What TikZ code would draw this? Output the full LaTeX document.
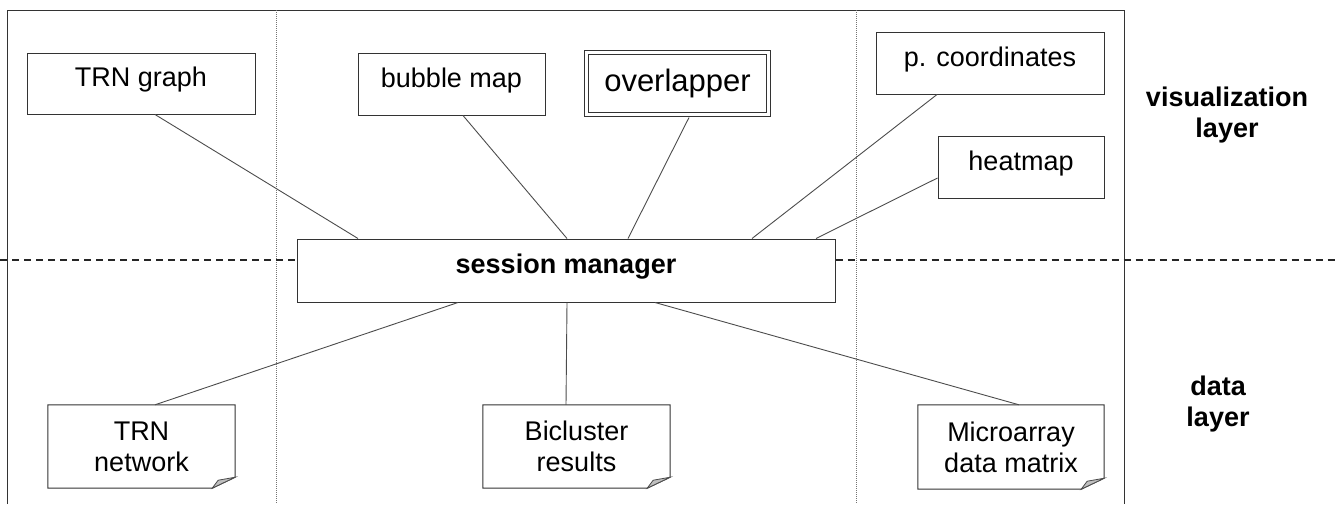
\documentclass[tikz,border=0pt]{standalone}
\usepackage{fontspec}
\setmainfont{Liberation Sans}
\usetikzlibrary{calc}
\tikzset{
  boxline/.style={draw=black!80, line width=1pt},
  viewbox/.style={boxline, rectangle, inner sep=0pt, fill=white,
    font=\fontsize{27}{31}\selectfont, text height=20pt, text depth=14pt},
  docbox/.style={rectangle, inner sep=0pt, align=center,
    font=\fontsize{27}{31}\selectfont},
  conn/.style={draw=black!70, line width=0.9pt},
  sep/.style={draw=black!55, line width=0.9pt, dash pattern=on 1pt off 1pt},
  layersep/.style={draw=black!85, line width=1.1pt, dash pattern=on 7pt off 5pt},
  fold/.style={draw=black!70, line width=0.8pt, fill=black!25},
  layerlabel/.style={align=center, font=\fontsize{27}{31}\selectfont\bfseries}
}
\newcommand\docoutline[1]{%
  \draw[boxline] (#1.north west) -- (#1.north east) -- ([yshift=11pt]#1.south east)
     -- ([xshift=-23pt]#1.south east) -- (#1.south west) -- cycle;
  \draw[fold] ([xshift=-23pt]#1.south east) -- ([xshift=-17pt,yshift=8pt]#1.south east)
     -- ([yshift=11pt]#1.south east) -- cycle;}
\begin{document}
\begin{tikzpicture}[x=1pt,y=-1pt]
\useasboundingbox (0,0) rectangle (1335,504);
% frame and separators
\draw[boxline] (7,504) -- (7,10) -- (1124,10) -- (1124,504);
\draw[sep] (276,10) -- (276,504);
\draw[sep] (856,10) -- (856,504);

% nodes
\node[viewbox, minimum width=228pt, minimum height=61pt] (trngraph) at (141,83.5) {TRN graph};
\node[viewbox, minimum width=187pt, minimum height=62pt] (bubble) at (451.5,84) {bubble map};
\node[rectangle, inner sep=0pt, draw=black!80, line width=1pt, double, double distance=3pt,
  minimum width=182pt, minimum height=62pt, font=\fontsize{31}{35}\selectfont]
  (overlapper) at (677.5,83.5) {overlapper};
\node[viewbox, minimum width=228pt, minimum height=62pt] (pcoord) at (990,63) {p. coordinates};
\node[viewbox, minimum width=166pt, minimum height=62pt] (heatmap) at (1021,167) {heatmap};
\node[viewbox, minimum width=538pt, minimum height=63pt, font=\fontsize{27}{31}\selectfont\bfseries]
  (session) at (566,270.5) {session manager};

\node[docbox, minimum width=187pt, minimum height=83pt] (trnnet) at (141.5,446.5) {TRN\\network};
\node[docbox, minimum width=187pt, minimum height=83pt] (bicluster) at (576.5,446.5) {Bicluster\\results};
\node[docbox, minimum width=186pt, minimum height=84pt] (microarray) at (1011,447) {Microarray\\data matrix};
\docoutline{trnnet}
\docoutline{bicluster}
\docoutline{microarray}

% layer separator
\coordinate (dl) at (0,260);
\coordinate (dr) at (1335,260);
\draw[layersep] (dl) -- (session.west |- dl);
\draw[layersep] (session.east |- dr) -- (dr);

% connectors
\draw[conn] ([xshift=14pt]trngraph.south) -- ([xshift=-208pt]session.north);
\draw[conn] ([xshift=11.5pt]bubble.south) -- ([xshift=1pt]session.north);
\draw[conn] ([xshift=11.5pt,yshift=-2.5pt]overlapper.south) -- ([xshift=62pt]session.north);
\draw[conn] ([xshift=-53pt]pcoord.south) -- ([xshift=186pt]session.north);
\draw[conn] ([yshift=-11pt]heatmap.west) -- ([xshift=250pt]session.north);
\draw[conn] ([xshift=-108pt]session.south) -- ([xshift=13.5pt]trnnet.north);
\draw[conn] ([xshift=1pt]session.south) -- ([xshift=-10.5pt]bicluster.north);
\draw[conn] ([xshift=89pt]session.south) -- ([xshift=8pt]microarray.north);

% layer labels
\node[layerlabel] (vislabel) at (1227,115) {visualization\\layer};
\node[layerlabel] (datalabel) at (1218,404.5) {data\\layer};
\end{tikzpicture}
\end{document}
